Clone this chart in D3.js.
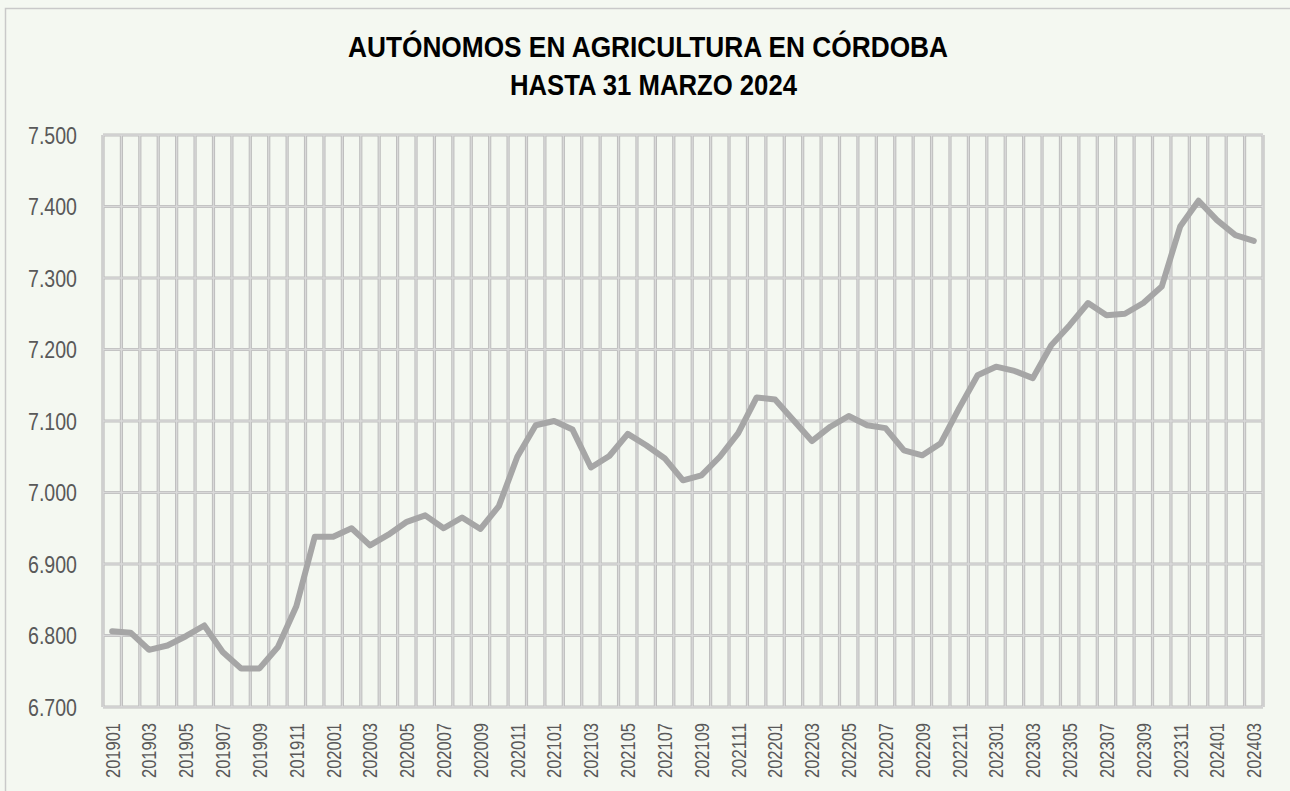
<!DOCTYPE html>
<html>
<head>
<meta charset="utf-8">
<script src="https://cdn.jsdelivr.net/npm/d3@7"></script>
<style>
  html, body { margin: 0; padding: 0; background: #f4f8f1; }
  svg { display: block; }
</style>
</head>
<body>
<svg id="chart" width="1290" height="791"></svg>
<script>
// Monthly periods (YYYYMM)
const months = [
  "201901","201902","201903","201904","201905","201906","201907","201908","201909","201910","201911","201912",
  "202001","202002","202003","202004","202005","202006","202007","202008","202009","202010","202011","202012",
  "202101","202102","202103","202104","202105","202106","202107","202108","202109","202110","202111","202112",
  "202201","202202","202203","202204","202205","202206","202207","202208","202209","202210","202211","202212",
  "202301","202302","202303","202304","202305","202306","202307","202308","202309","202310","202311","202312",
  "202401","202402","202403"
];

// Self-employed workers in agriculture, Córdoba
const autonomos = [
  6806, 6804, 6780, 6786, 6799, 6814, 6777, 6754, 6754, 6784, 6841, 6938,
  6938, 6950, 6926, 6941, 6959, 6968, 6950, 6965, 6949, 6981, 7050, 7094,
  7100, 7088, 7035, 7051, 7082, 7066, 7048, 7017, 7024, 7050, 7083, 7133,
  7130, 7101, 7072, 7092, 7107, 7094, 7090, 7059, 7052, 7069, 7118, 7164,
  7176, 7170, 7160, 7206, 7234, 7265, 7248, 7250, 7265, 7288, 7372, 7408,
  7381, 7360, 7352
];

const yTicks = [6700, 6800, 6900, 7000, 7100, 7200, 7300, 7400, 7500];
const titleLines = ["AUTÓNOMOS EN AGRICULTURA EN CÓRDOBA", "HASTA 31 MARZO 2024"];

const svg = d3.select("#chart");
const W = 1290, H = 791;
const plot = { left: 103, right: 1263, top: 135, bottom: 707 };
const font = "'Liberation Sans', Arial, sans-serif";

// Chart frame
svg.append("rect")
  .attr("x", 5.5).attr("y", 8.5)
  .attr("width", W).attr("height", H)
  .attr("fill", "#f4f8f1")
  .attr("stroke", "#c9c9c9").attr("stroke-width", 1.5);

const x = d3.scaleBand().domain(months).range([plot.left, plot.right]).paddingInner(0).paddingOuter(0);
const y = d3.scaleLinear().domain([6700, 7500]).range([plot.bottom, plot.top]);

// Grid: category boundaries and value ticks, drawn as two-tone lines
const grid = svg.append("g");
const boundaries = months.map(m => x(m)).concat([x(months[months.length - 1]) + x.bandwidth()]);

function drawGrid(g, color, width) {
  g.append("g").selectAll("line").data(boundaries).join("line")
    .attr("x1", d => d).attr("x2", d => d)
    .attr("y1", plot.top).attr("y2", plot.bottom)
    .attr("stroke", color).attr("stroke-width", width);
  g.append("g").selectAll("line").data(yTicks).join("line")
    .attr("x1", plot.left).attr("x2", plot.right)
    .attr("y1", d => y(d)).attr("y2", d => y(d))
    .attr("stroke", color).attr("stroke-width", width);
}
drawGrid(grid.append("g"), "#bdbdbd", 3.2);
drawGrid(grid.append("g"), "#d9d9d9", 1.3);

// Y axis labels (condensed)
const yAxis = svg.append("g")
  .attr("transform", `translate(${plot.left},0)`)
  .call(d3.axisLeft(y).tickValues(yTicks).tickSize(0).tickPadding(26)
    .tickFormat(d => d3.format(",")(d).replace(",", ".")));
yAxis.select(".domain").remove();
yAxis.selectAll("text")
  .attr("font-family", font).attr("font-size", 24)
  .attr("fill", "#595959").attr("dy", "0.35em")
  .attr("textLength", 49).attr("lengthAdjust", "spacingAndGlyphs");

// X axis labels: every other month, vertical (condensed)
const xAxis = svg.append("g")
  .attr("transform", `translate(0,${plot.bottom})`)
  .call(d3.axisBottom(x).tickValues(months.filter((m, i) => i % 2 === 0)).tickSize(0));
xAxis.select(".domain").remove();
xAxis.selectAll("text")
  .attr("font-family", font).attr("font-size", 21)
  .attr("fill", "#595959")
  .attr("text-anchor", "end")
  .attr("transform", "rotate(-90)")
  .attr("x", -16).attr("y", 0).attr("dy", "0.35em")
  .attr("textLength", 55).attr("lengthAdjust", "spacingAndGlyphs");

// Series line
const line = d3.line()
  .x((d, i) => x(months[i]) + x.bandwidth() / 2)
  .y(d => y(d));
svg.append("path")
  .datum(autonomos)
  .attr("d", line)
  .attr("fill", "none")
  .attr("stroke", "#a6a6a6")
  .attr("stroke-width", 6)
  .attr("stroke-linejoin", "round")
  .attr("stroke-linecap", "round");

// Title (condensed bold)
const titleWidths = [600, 287];
svg.append("g").selectAll("text").data(titleLines).join("text")
  .attr("x", (d, i) => i === 0 ? 348 : 510)
  .attr("y", (d, i) => i === 0 ? 57 : 95)
  .attr("font-family", font)
  .attr("font-weight", "bold")
  .attr("font-size", 29)
  .attr("fill", "#000")
  .attr("textLength", (d, i) => titleWidths[i])
  .attr("lengthAdjust", "spacingAndGlyphs")
  .text(d => d);
</script>
</body>
</html>
